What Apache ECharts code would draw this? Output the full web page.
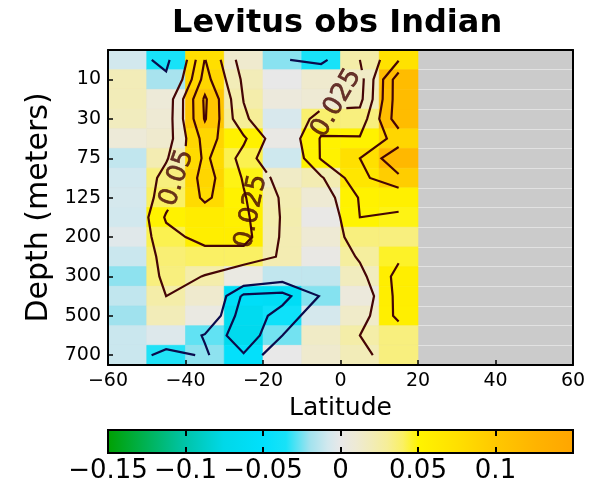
<!DOCTYPE html>
<html>
<head>
<meta charset="utf-8">
<script src="https://cdn.jsdelivr.net/npm/echarts@6/dist/echarts.min.js"></script>
<style>
html,body{margin:0;padding:0;background:#fff;}
#chart{width:599px;height:485px;}
</style>
</head>
<body>
<div id="chart"></div>
<script>
// ---- data (values per latitude column, surface -> 700 m) ----
const depthLevels = [0, 10, 20, 30, 50, 75, 100, 125, 150, 200, 250, 300, 400, 500, 600, 700];
const depthTickRows = [1, 3, 5, 7, 9, 11, 13, 15];
const latitudes = [-55, -45, -35, -25, -15, -5, 5, 15];
const lat55S = [-0.008, 0.02, 0.02, 0.018, 0.008, -0.012, -0.008, -0.007, -0.008, -0.003, -0.01, -0.022, -0.012, -0.02, -0.01, -0.01];
const lat45S = [-0.035, -0.018, 0.008, 0.01, 0.012, 0.022, 0.035, 0.04, 0.053, 0.042, 0.037, 0.035, 0.025, 0.02, -0.004, -0.034];
const lat35S = [0.076, 0.085, 0.104, 0.102, 0.085, 0.08, 0.085, 0.08, 0.06, 0.058, 0.04, 0.024, 0.012, 0.003, -0.027, -0.022];
const lat25S = [0.012, 0.02, 0.024, 0.03, 0.054, 0.042, 0.048, 0.052, 0.055, 0.058, 0.04, 0.003, -0.055, -0.065, -0.068, -0.048];
const lat15S = [-0.0225, 0, 0.006, -0.006, 0.002, -0.009, 0.015, 0.022, 0.023, 0.022, 0.022, -0.012, -0.058, -0.041, -0.025, 0];
const lat5S = [-0.035, 0.012, 0.01, 0.038, 0.052, 0.052, 0.022, 0.01, 0.001, 0.01, 0.002, -0.012, -0.023, -0.007, 0.015, 0.012];
const lat5N = [0.025, 0.015, 0.018, 0.035, 0.052, 0.075, 0.068, 0.052, 0.05, 0.035, 0.028, 0.018, 0.006, 0.014, 0.025, 0.02];
const lat15N = [0.073, 0.115, 0.115, 0.115, 0.085, 0.12, 0.095, 0.055, 0.048, 0.035, 0.046, 0.058, 0.058, 0.056, 0.035, 0.035];
const contourLevels = [-0.075, -0.05, -0.025, 0.025, 0.05, 0.075, 0.1, 0.125];
const colorbarTicks = [-0.15, -0.1, -0.05, 0, 0.05, 0.1];
const contourLabels = [
  { lat: -42.2, row: 6.0, text: '0.05', angle: 71 },
  { lat: -23.0, row: 7.7, text: '0.025', angle: 78 },
  { lat: -1.0, row: 2.2, text: '0.025', angle: 60 }
];

// ---- styles ----
const FONT = 'DejaVu Sans';
const LABEL_SIZE = 26;
const POS_LINE = '#450505', NEG_LINE = '#0a0a4c';
const colorStops = [
  [-0.15, '#00a000'], [-0.1, '#00c4a8'], [-0.075, '#00d8e8'], [-0.05, '#00e0fc'],
  [-0.035, '#18e2f8'], [-0.02, '#a0e2ee'], [-0.008, '#d2e8ee'], [0, '#e8e8e8'],
  [0.01, '#eeead4'], [0.02, '#f2ecb8'], [0.03, '#f6ee98'], [0.04, '#faf064'],
  [0.05, '#fff400'], [0.075, '#ffe000'], [0.1, '#ffc800'], [0.125, '#ffb400'], [0.15, '#ffa500']
];
const cMin = -0.15, cMax = 0.15;

function hexToRgb(h) { return [parseInt(h.substr(1, 2), 16), parseInt(h.substr(3, 2), 16), parseInt(h.substr(5, 2), 16)]; }
function colorAt(v) {
  if (v <= colorStops[0][0]) return colorStops[0][1];
  for (let k = 1; k < colorStops.length; k++) {
    if (v <= colorStops[k][0]) {
      const a = colorStops[k - 1], b = colorStops[k];
      const t = (v - a[0]) / (b[0] - a[0]);
      const ca = hexToRgb(a[1]), cb = hexToRgb(b[1]);
      const c = ca.map((x, i) => Math.round(x + t * (cb[i] - x)));
      return 'rgb(' + c.join(',') + ')';
    }
  }
  return colorStops[colorStops.length - 1][1];
}

const columns = [lat55S, lat45S, lat35S, lat25S, lat15S, lat5S, lat5N, lat15N];
const nRows = depthLevels.length, nCols = latitudes.length;
const grid = [];
for (let j = 0; j < nRows; j++) { grid.push(columns.map(c => c[j])); }

const cellData = [];
for (let i = 0; i < nCols; i++) for (let j = 0; j < nRows; j++) cellData.push([latitudes[i], j, columns[i][j]]);

// ---- marching squares contours on the cell-centre grid ----
function contour(level) {
  const segs = [];
  const lerp = (v1, v2) => (level - v1) / (v2 - v1);
  for (let j = 0; j < nRows - 1; j++) {
    for (let i = 0; i < nCols - 1; i++) {
      const a = grid[j][i], b = grid[j][i + 1], c = grid[j + 1][i + 1], d = grid[j + 1][i];
      const x0 = latitudes[i], x1 = latitudes[i + 1];
      const E = {
        T: () => ({ id: 'h' + i + '_' + j, p: [x0 + lerp(a, b) * (x1 - x0), j] }),
        B: () => ({ id: 'h' + i + '_' + (j + 1), p: [x0 + lerp(d, c) * (x1 - x0), j + 1] }),
        L: () => ({ id: 'v' + i + '_' + j, p: [x0, j + lerp(a, d)] }),
        R: () => ({ id: 'v' + (i + 1) + '_' + j, p: [x1, j + lerp(b, c)] })
      };
      const idx = (a >= level ? 8 : 0) | (b >= level ? 4 : 0) | (c >= level ? 2 : 0) | (d >= level ? 1 : 0);
      const centre = (a + b + c + d) / 4 >= level;
      let pairs = [];
      switch (idx) {
        case 1: case 14: pairs = [['L', 'B']]; break;
        case 2: case 13: pairs = [['B', 'R']]; break;
        case 3: case 12: pairs = [['L', 'R']]; break;
        case 4: case 11: pairs = [['T', 'R']]; break;
        case 6: case 9: pairs = [['T', 'B']]; break;
        case 7: case 8: pairs = [['T', 'L']]; break;
        case 5: pairs = centre ? [['T', 'L'], ['R', 'B']] : [['T', 'R'], ['L', 'B']]; break;
        case 10: pairs = centre ? [['T', 'R'], ['L', 'B']] : [['T', 'L'], ['R', 'B']]; break;
      }
      pairs.forEach(pr => { const e1 = E[pr[0]](), e2 = E[pr[1]](); segs.push({ e: [e1.id, e2.id], p: [e1.p, e2.p] }); });
    }
  }
  const byEdge = new Map();
  segs.forEach((s, k) => s.e.forEach(id => { if (!byEdge.has(id)) byEdge.set(id, []); byEdge.get(id).push(k); }));
  const isEnd = id => byEdge.get(id).length === 1;
  const order = segs.map((s, k) => k).sort((p, q) => (segs[p].e.some(isEnd) ? 0 : 1) - (segs[q].e.some(isEnd) ? 0 : 1));
  const used = segs.map(() => false);
  const lines = [];
  order.forEach(k0 => {
    if (used[k0]) return;
    used[k0] = true;
    const s = segs[k0];
    const st = isEnd(s.e[0]) ? 0 : (isEnd(s.e[1]) ? 1 : 0);
    const pts = [s.p[st], s.p[1 - st]];
    let cur = s.e[1 - st];
    for (;;) {
      const k = byEdge.get(cur).find(q => !used[q]);
      if (k === undefined) break;
      used[k] = true;
      const c = segs[k];
      const w = c.e[0] === cur ? 0 : 1;
      pts.push(c.p[1 - w]);
      cur = c.e[1 - w];
    }
    lines.push(pts);
  });
  return lines;
}

const contourSets = contourLevels.map(L => ({ level: L, lines: contour(L) }));
function contourSeriesData(sets) {
  const out = [];
  sets.forEach(s => s.lines.forEach(pts => {
    if (pts.length > 1) out.push({ coords: pts, lineStyle: { color: s.level < 0 ? NEG_LINE : POS_LINE } });
  }));
  return out;
}

const minus = s => String(s).replace('-', '\u2212');
const axisBlack = { onZero: false, lineStyle: { color: '#000', width: 2 } };

const chart = echarts.init(document.getElementById('chart'), null, { renderer: 'canvas' });
chart.setOption({
  animation: false,
  backgroundColor: '#fff',
  textStyle: { fontFamily: FONT, color: '#000' },
  title: {
    text: 'Levitus obs Indian', left: 172, top: 8, padding: 0,
    textStyle: { fontFamily: FONT, fontSize: 32, fontWeight: 'bold', color: '#000' }
  },
  grid: [
    { left: 108, top: 50, width: 465, height: 315, show: true, backgroundColor: '#cbcbcb', borderWidth: 0 },
    { left: 108, top: 430, width: 465, height: 23 }
  ],
  xAxis: [
    {
      gridIndex: 0, type: 'value', min: -60, max: 60, interval: 20, position: 'bottom', z: 10,
      axisLine: axisBlack, axisTick: { inside: true, length: 5, lineStyle: { color: '#000', width: 1.5 } },
      axisLabel: { fontSize: 19, color: '#000', fontFamily: FONT, margin: 7, formatter: v => minus(v) },
      splitLine: { show: false },
      name: 'Latitude', nameLocation: 'middle', nameGap: 22,
      nameTextStyle: { fontSize: 25, color: '#000', fontFamily: FONT }
    },
    {
      gridIndex: 0, type: 'value', min: -60, max: 60, interval: 20, position: 'top', z: 10,
      axisLine: axisBlack, axisTick: { show: false }, axisLabel: { show: false }, splitLine: { show: false }
    },
    {
      gridIndex: 1, type: 'value', min: cMin, max: cMax, interval: 0.05, position: 'bottom', z: 10,
      axisLine: axisBlack, axisTick: { inside: true, length: 6, lineStyle: { color: '#000', width: 2 } },
      axisLabel: {
        fontSize: 26, color: '#000', fontFamily: FONT, margin: 5,
        formatter: v => colorbarTicks.some(t => Math.abs(t - v) < 1e-9) ? minus(+v.toFixed(2)) : ''
      },
      splitLine: { show: false }
    },
    {
      gridIndex: 1, type: 'value', min: cMin, max: cMax, interval: 0.05, position: 'top', z: 10,
      axisLine: axisBlack, axisTick: { inside: true, length: 6, lineStyle: { color: '#000', width: 2 } },
      axisLabel: { show: false }, splitLine: { show: false }
    }
  ],
  yAxis: [
    {
      gridIndex: 0, type: 'value', min: -0.5, max: nRows - 0.5, inverse: true, position: 'left', z: 10,
      axisLine: axisBlack,
      axisTick: { inside: true, length: 5, customValues: depthTickRows, lineStyle: { color: '#000', width: 1.5 } },
      axisLabel: { customValues: depthTickRows, fontSize: 19, color: '#000', fontFamily: FONT, margin: 7, formatter: v => String(depthLevels[Math.round(v)]) },
      splitLine: { show: false },
      name: 'Depth (meters)', nameLocation: 'middle', nameGap: 50,
      nameTextStyle: { fontSize: 30, color: '#000', fontFamily: FONT }
    },
    {
      gridIndex: 0, type: 'value', min: -0.5, max: nRows - 0.5, interval: 1, inverse: true, position: 'right',
      axisLine: axisBlack, axisTick: { show: false }, axisLabel: { show: false },
      splitLine: { show: true, lineStyle: { color: '#e2e2e2', width: 1 } }
    },
    {
      gridIndex: 1, type: 'value', min: 0, max: 1, show: false
    }
  ],
  series: [
    {
      type: 'custom', xAxisIndex: 0, yAxisIndex: 0, z: 2, silent: true,
      data: cellData,
      renderItem: (params, api) => {
        const lat = api.value(0), row = api.value(1), v = api.value(2);
        const half = (latitudes[1] - latitudes[0]) / 2;
        const p0 = api.coord([lat - half, row - 0.5]);
        const p1 = api.coord([lat + half, row + 0.5]);
        const col = colorAt(v);
        return {
          type: 'rect',
          shape: { x: Math.min(p0[0], p1[0]), y: Math.min(p0[1], p1[1]), width: Math.abs(p1[0] - p0[0]), height: Math.abs(p1[1] - p0[1]) },
          style: { fill: col, stroke: col, lineWidth: 0.6 }
        };
      }
    },
    {
      type: 'lines', coordinateSystem: 'cartesian2d', xAxisIndex: 0, yAxisIndex: 0, polyline: true, z: 4, silent: true,
      lineStyle: { width: 2.2, opacity: 1 },
      data: contourSeriesData(contourSets)
    },
    {
      type: 'scatter', xAxisIndex: 0, yAxisIndex: 0, symbolSize: 0, z: 5, silent: true,
      data: contourLabels.map(c => ({
        value: [c.lat, c.row],
        label: {
          show: true, position: 'inside', formatter: c.text, rotate: c.angle, fontSize: LABEL_SIZE,
          color: POS_LINE, fontFamily: FONT, textBorderColor: POS_LINE, textBorderWidth: 0.6
        }
      }))
    },
    {
      type: 'custom', xAxisIndex: 2, yAxisIndex: 2, z: 2, silent: true,
      data: [[0]],
      renderItem: (params, api) => {
        const p0 = api.coord([cMin, 0]);
        const p1 = api.coord([cMax, 1]);
        const stops = colorStops.map(s => ({ offset: (s[0] - cMin) / (cMax - cMin), color: s[1] }));
        return {
          type: 'rect',
          shape: { x: p0[0], y: p1[1], width: p1[0] - p0[0], height: p0[1] - p1[1] },
          style: { fill: new echarts.graphic.LinearGradient(0, 0, 1, 0, stops), stroke: '#000', lineWidth: 2 }
        };
      }
    }
  ]
});

// ---- break labelled contour lines under their inline labels (clabel style) ----
(function breakUnderLabels() {
  const ctx = document.createElement('canvas').getContext('2d');
  ctx.font = LABEL_SIZE + 'px "' + FONT + '"';
  const toPx = p => chart.convertToPixel({ xAxisIndex: 0, yAxisIndex: 0 }, p);
  const boxes = contourLabels.map(c => {
    const ctr = toPx([c.lat, c.row]);
    const th = c.angle * Math.PI / 180;
    return {
      level: parseFloat(c.text), c: ctr, u: [Math.cos(th), -Math.sin(th)], v: [Math.sin(th), Math.cos(th)],
      hw: ctx.measureText(c.text).width / 2 + 4, hh: LABEL_SIZE * 0.42
    };
  });
  function clip(b, P0, P1) {
    const l0 = [(P0[0] - b.c[0]) * b.u[0] + (P0[1] - b.c[1]) * b.u[1], (P0[0] - b.c[0]) * b.v[0] + (P0[1] - b.c[1]) * b.v[1]];
    const l1 = [(P1[0] - b.c[0]) * b.u[0] + (P1[1] - b.c[1]) * b.u[1], (P1[0] - b.c[0]) * b.v[0] + (P1[1] - b.c[1]) * b.v[1]];
    const d = [l1[0] - l0[0], l1[1] - l0[1]];
    let t0 = 0, t1 = 1;
    const tests = [[-d[0], l0[0] + b.hw], [d[0], b.hw - l0[0]], [-d[1], l0[1] + b.hh], [d[1], b.hh - l0[1]]];
    for (const [p, q] of tests) {
      if (Math.abs(p) < 1e-12) { if (q < 0) return null; continue; }
      const r = q / p;
      if (p < 0) { if (r > t1) return null; if (r > t0) t0 = r; }
      else { if (r < t0) return null; if (r < t1) t1 = r; }
    }
    return t1 > t0 ? [t0, t1] : null;
  }
  const lerpPt = (a, b, t) => [a[0] + t * (b[0] - a[0]), a[1] + t * (b[1] - a[1])];
  const newSets = contourSets.map(set => {
    const myBoxes = boxes.filter(b => Math.abs(b.level - set.level) < 1e-9);
    if (!myBoxes.length) return set;
    const out = [];
    set.lines.forEach(pts => {
      let run = [pts[0]];
      for (let k = 0; k < pts.length - 1; k++) {
        const A = pts[k], B = pts[k + 1];
        const PA = toPx(A), PB = toPx(B);
        let cuts = [];
        myBoxes.forEach(b => { const r = clip(b, PA, PB); if (r) cuts.push(r); });
        cuts.sort((x, y) => x[0] - y[0]);
        let tPrev = 0;
        cuts.forEach(([ti, to]) => {
          if (ti > tPrev) run.push(lerpPt(A, B, ti));
          if (run.length > 1) out.push(run);
          run = [];
          tPrev = Math.max(tPrev, to);
          if (to < 1) run.push(lerpPt(A, B, to));
        });
        if (tPrev < 1) { if (!run.length) run.push(lerpPt(A, B, tPrev)); run.push(B); }
      }
      if (run.length > 1) out.push(run);
    });
    return { level: set.level, lines: out };
  });
  chart.setOption({ series: [{}, { data: contourSeriesData(newSets) }] });
})();
</script>
</body>
</html>
